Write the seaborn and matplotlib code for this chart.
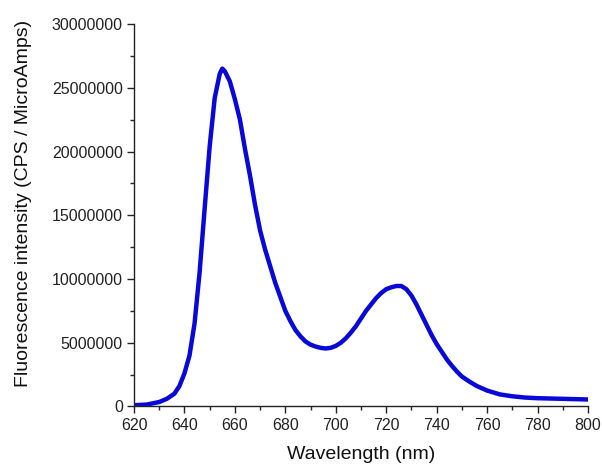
import numpy as np
import pandas as pd
import seaborn as sns
import matplotlib
matplotlib.use("Agg")
import matplotlib.pyplot as plt
import matplotlib.ticker as mtick

# Emission spectrum (intensity in millions of CPS / uA)
wavelength = [620, 625, 630, 633, 636, 638, 640, 642, 644, 646, 648, 650,
              652, 654, 655, 656, 658, 660, 662, 664, 666, 668, 670, 672,
              674, 676, 678, 680, 682, 684, 686, 688, 690, 692, 694, 696,
              698, 700, 702, 704, 706, 708, 710, 712, 714, 716, 718, 720,
              722, 724, 726, 728, 730, 732, 734, 736, 738, 740, 742, 744,
              746, 748, 750, 753, 756, 760, 765, 770, 775, 780, 790, 800]
intensity_m = [0.10, 0.15, 0.35, 0.6, 1.0, 1.6, 2.6, 4.0, 6.5, 10.5, 15.5, 20.4,
               24.2, 26.1, 26.5, 26.3, 25.5, 24.1, 22.5, 20.2, 18.1, 15.8, 13.8, 12.3,
               11.0, 9.7, 8.6, 7.5, 6.7, 6.0, 5.5, 5.1, 4.85, 4.7, 4.6, 4.55,
               4.6, 4.75, 5.0, 5.35, 5.8, 6.3, 6.9, 7.5, 8.0, 8.5, 8.9, 9.2,
               9.35, 9.45, 9.45, 9.2, 8.7, 8.0, 7.2, 6.4, 5.6, 4.9, 4.3, 3.7,
               3.2, 2.75, 2.35, 1.95, 1.6, 1.25, 0.95, 0.8, 0.7, 0.65, 0.6, 0.55]

spectrum = pd.DataFrame({
    "wavelength": wavelength,
    "intensity": np.array(intensity_m) * 1e6,
})

sns.set_style("ticks")
plt.rcParams["font.family"] = ["Liberation Sans", "DejaVu Sans"]

fig = plt.figure(figsize=(6.02, 4.69), dpi=100)
ax = fig.add_axes([0.2226, 0.1333, 0.7541, 0.8155])

sns.lineplot(data=spectrum, x="wavelength", y="intensity", color="#0808d8",
             linewidth=3.2, ax=ax)

ax.set_xlim(620, 800)
ax.set_ylim(0, 30000000)
ax.xaxis.set_major_locator(mtick.MultipleLocator(20))
ax.xaxis.set_minor_locator(mtick.MultipleLocator(10))
ax.yaxis.set_major_locator(mtick.MultipleLocator(5000000))
ax.yaxis.set_minor_locator(mtick.MultipleLocator(2500000))
ax.yaxis.set_major_formatter(mtick.FuncFormatter(lambda v, p: f"{int(round(v))}"))

ax.tick_params(which="major", direction="out", length=5, width=1,
               labelsize=11.5, colors="#222222", pad=3)
ax.tick_params(which="minor", direction="out", length=3, width=1, colors="#222222")

for side in ["top", "right"]:
    ax.spines[side].set_visible(False)
for side in ["left", "bottom"]:
    ax.spines[side].set_color("#222222")
    ax.spines[side].set_linewidth(1)

ax.set_xlabel("Wavelength (nm)", fontsize=14, color="#111111", labelpad=10)
ax.set_ylabel("Fluorescence intensity (CPS / MicroAmps)", fontsize=14,
              color="#111111")
ax.yaxis.set_label_coords(-0.225, 0.531)

fig.savefig("out.png", dpi=100)
